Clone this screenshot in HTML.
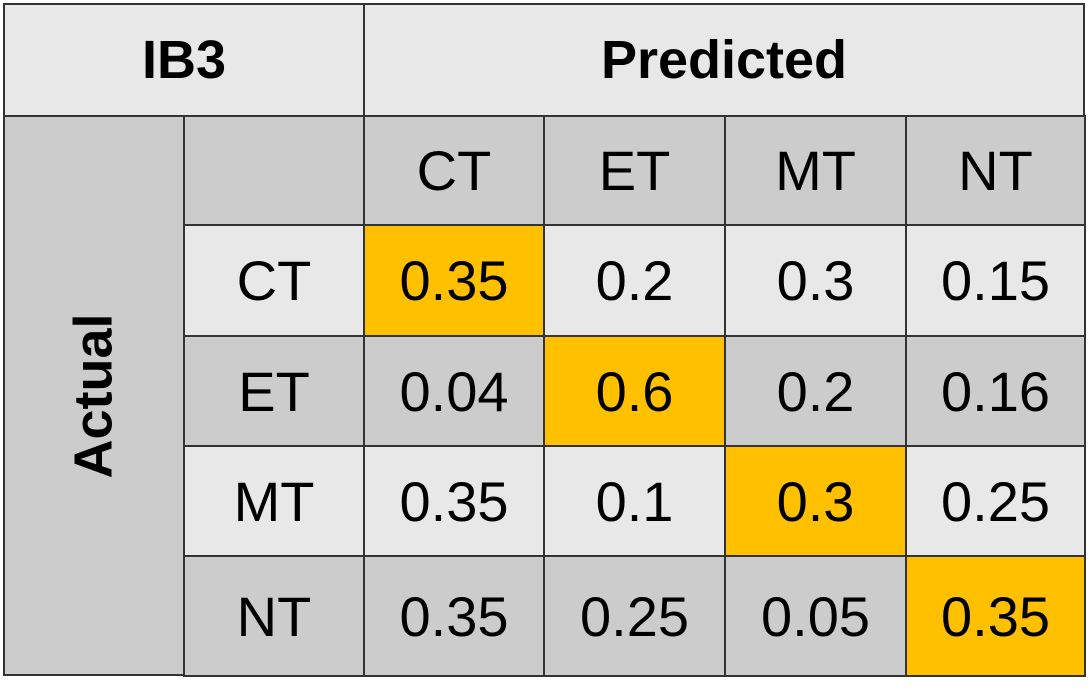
<!DOCTYPE html>
<html><head><meta charset="utf-8"><style>
body{margin:0;width:1088px;height:697px;background:#fff;overflow:hidden;font-family:"Liberation Sans",sans-serif}
#t{position:absolute;left:0;top:0;width:1088px;height:697px}
.c{position:absolute;box-sizing:border-box;border:2px solid #333;display:flex;align-items:center;justify-content:center;color:#000;font-size:56px}
.b{font-weight:bold;font-size:54px}
</style></head><body>
<div id="t"></div>
<script>
const classes=["CT","ET","MT","NT"];
const row0=[0.35,0.2,0.3,0.15];
const row1=[0.04,0.6,0.2,0.16];
const row2=[0.35,0.1,0.3,0.25];
const row3=[0.35,0.25,0.05,0.35];
const values=[row0,row1,row2,row3];
const colX=[363,543,724,905,1084];
const rowY=[224,335,445,555,675];
const LIGHT="#e8e8e8",GREY="#cccccc",GOLD="#ffc000";
const t=document.getElementById('t');
function cell(x,y,w,h,txt,bg,cls,name){
  const d=document.createElement('div');
  d.className='c '+(cls||'');
  d.style.left=x+'px';d.style.top=y+'px';d.style.width=w+'px';d.style.height=h+'px';d.style.background=bg;
  d.innerHTML=txt;
  
  
  t.appendChild(d);return d;
}
cell(3,3,362,114,'IB3',LIGHT,'b','model-title');
cell(363,3,722,114,'Predicted',LIGHT,'b','predicted-axis-title');
const a=cell(3,115,182,561,'',GREY,'','actual-axis-title');
a.innerHTML='<span style="transform:rotate(-90deg);font-weight:bold;font-size:54px;display:inline-block">Actual</span>';
cell(183,115,182,111,'',GREY,'','corner-cell');
classes.forEach((c,j)=>cell(colX[j],115,colX[j+1]-colX[j]+2,111,c,GREY,'','pred-header-'+c.toLowerCase()));
classes.forEach((c,i)=>{
  const bg=i%2===0?LIGHT:GREY;
  cell(183,rowY[i],182,rowY[i+1]-rowY[i]+2,c,bg,'','actual-header-'+c.toLowerCase());
  values[i].forEach((v,j)=>{
    cell(colX[j],rowY[i],colX[j+1]-colX[j]+2,rowY[i+1]-rowY[i]+2,String(v),i===j?GOLD:bg,'','cell-'+c.toLowerCase()+'-'+classes[j].toLowerCase());
  });
});
</script>
</body></html>
